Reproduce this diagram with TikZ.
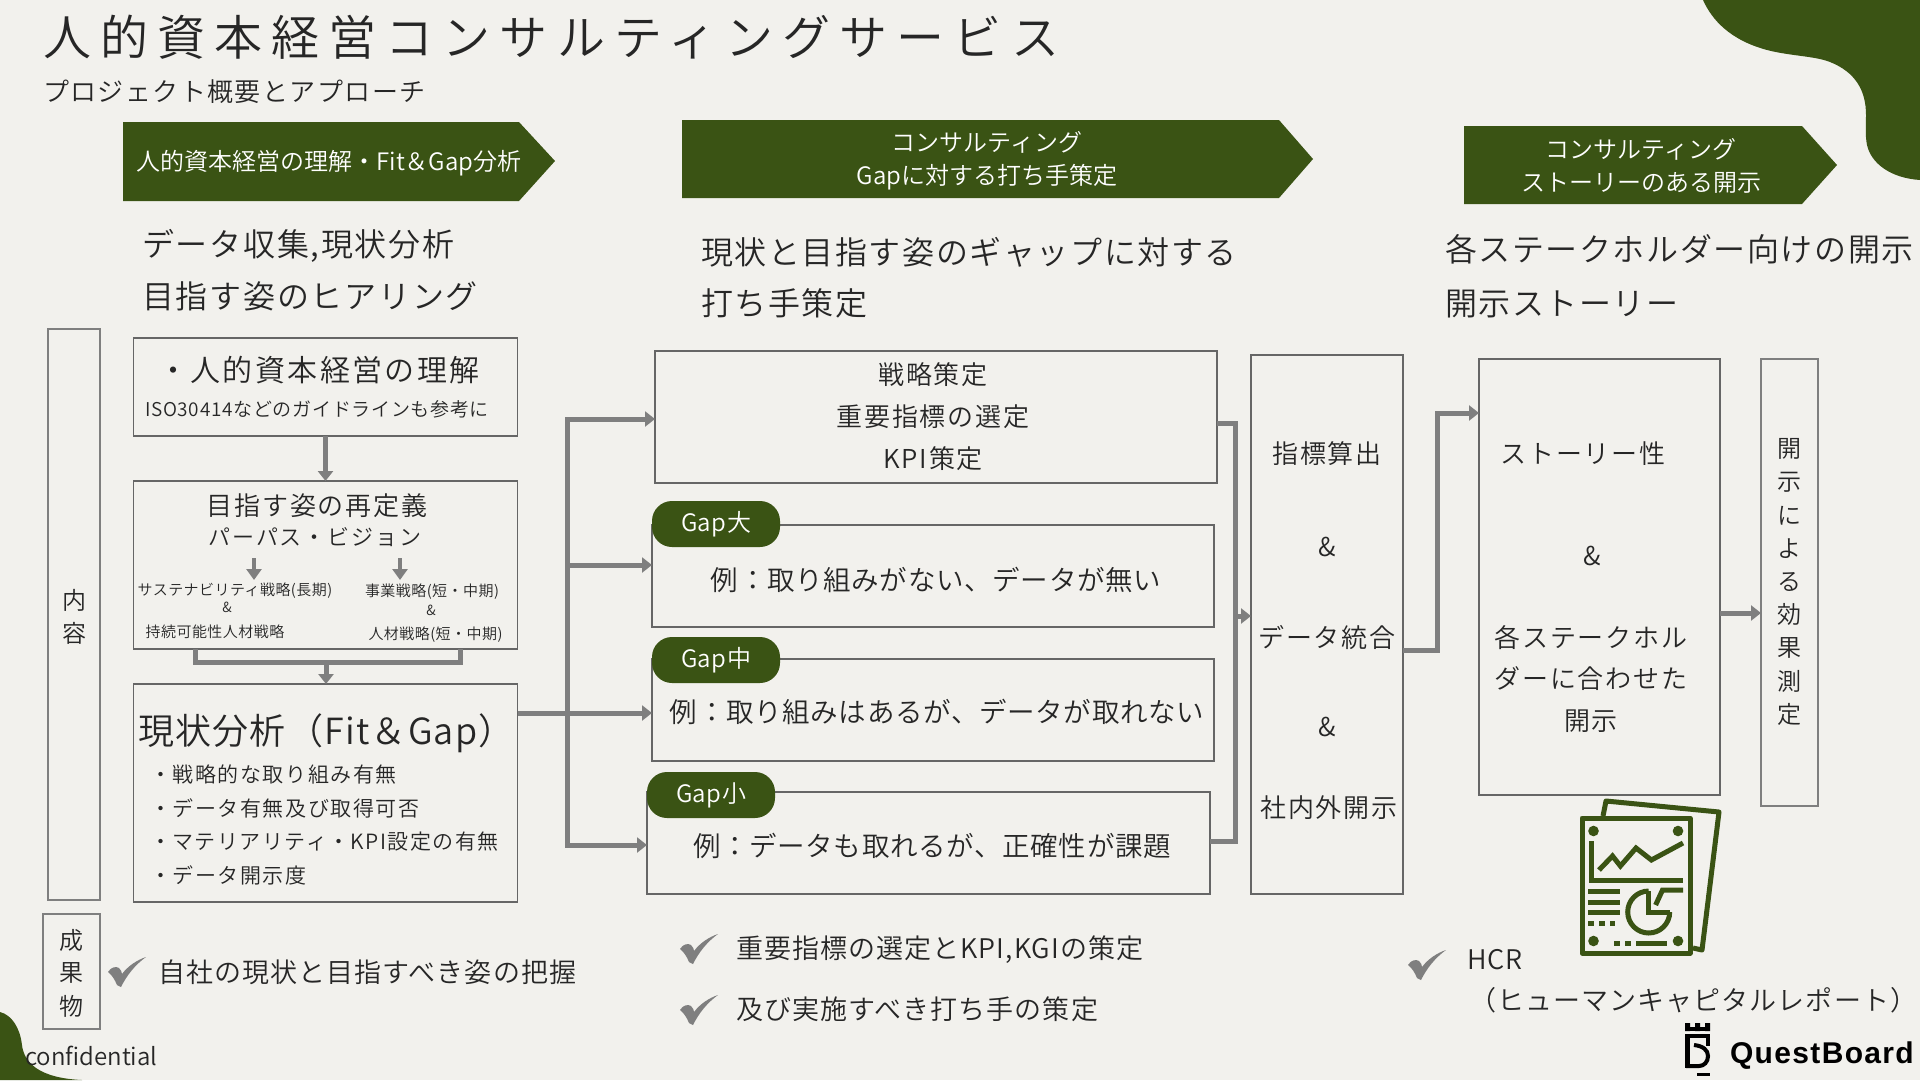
\documentclass[tikz,border=0pt]{standalone}
\usepackage{fontspec}
\usetikzlibrary{arrows.meta,calc}
\setmainfont[UprightFont=* DemiLight,BoldFont=*]{Noto Sans CJK JP}
\newfontfamily\logofont{Liberation Sans}
\definecolor{bgc}{HTML}{F2F1ED}
\definecolor{leaf}{HTML}{3A5314}
\definecolor{ink}{HTML}{262626}
\definecolor{flow}{HTML}{7F7F7F}
\definecolor{edge}{HTML}{666666}
\newcommand\fs[2]{\fontsize{#1}{#1}\selectfont\addfontfeature{LetterSpace=#2}}
\tikzset{
  tx/.style={inner sep=0pt,outer sep=0pt,text=ink,yshift=-1.2pt},
  wt/.style={inner sep=0pt,outer sep=0pt,text=white},
  boxthin/.style={draw=edge,line width=1.3pt,fill=none,inner sep=0pt,outer sep=0pt},
  boxthick/.style={draw=flow,line width=2.4pt,fill=none,inner sep=0pt,outer sep=0pt},
  pill/.style={fill=leaf,rounded corners=20pt,inner sep=0pt,outer sep=0pt,minimum width=128pt,minimum height=46pt,text=white,font=\fs{24}{2}},
  flowline/.style={draw=flow,line width=5pt},
  flowarrow/.style={flowline,-{Triangle[width=15pt,length=10pt]}},
  minor/.style={draw=flow,line width=4pt,-{Triangle[width=15pt,length=11pt]}},
  chev/.style={fill=leaf},
  iconline/.style={draw=leaf,line width=5pt},
  iconfill/.style={fill=leaf}
}
\newcommand\chk[2]{\fill[flow,shift={(#1,#2)}] (0,15) .. controls (3,10) and (8,9) .. (11,11) .. controls (13,13) and (14,15) .. (14,17) .. controls (20,9) and (29,3) .. (38,0) .. controls (27,8) and (19,18) .. (13,30) -- (9,28) .. controls (7,23) and (4,18) .. (0,15) -- cycle;}
\begin{document}
\begin{tikzpicture}[x=1pt,y=-1pt]
\useasboundingbox (0,0) rectangle (1920,1080);
\fill[bgc] (0,0) rectangle (1920,1080);
% blobs
\fill[leaf] (1703,0) .. controls (1712,20) and (1730,40) .. (1767,50) .. controls (1790,56) and (1815,56) .. (1830,62) .. controls (1855,72) and (1866,90) .. (1866,115) .. controls (1866,125) and (1865,135) .. (1867,145) .. controls (1871,163) and (1890,178) .. (1920,180) -- (1920,0) -- cycle;
\fill[leaf] (0,1012) .. controls (12,1015) and (20,1028) .. (22,1045) .. controls (24,1062) and (38,1078) .. (82,1080) -- (0,1080) -- cycle;
% title
\node[tx,anchor=west,font=\fs{48}{19}] (title) at (43,36) {人的資本経営コンサルティングサービス};
\node[tx,anchor=west,font=\fs{26}{5.5}] (subtitle) at (43,90) {プロジェクト概要とアプローチ};
% chevrons
\fill[chev] (123,122) -- (519,122) -- (555,161) -- (519,201) -- (123,201) -- cycle;
\fill[chev] (682,120) -- (1279,120) -- (1313,159) -- (1279,198) -- (682,198) -- cycle;
\fill[chev] (1464,126) -- (1802,126) -- (1837,165) -- (1802,204) -- (1464,204) -- cycle;
\node[wt,font=\fs{24}{0}] (c1a) at (329,163.5) {人的資本経営の理解・Fit＆Gap分析};
\node[wt,font=\fs{24}{0}] (c2a) at (987,142.5) {コンサルティング};
\node[wt,font=\fs{24}{0}] (c2b) at (987,177.5) {Gapに対する打ち手策定};
\node[wt,font=\fs{24}{0}] (c3a) at (1641,149.5) {コンサルティング};
\node[wt,font=\fs{24}{0}] (c3b) at (1641,182.5) {ストーリーのある開示};
% headings
\node[tx,anchor=west,font=\fs{32}{5.5}] (h1a) at (142,245) {データ収集,現状分析};
\node[tx,anchor=west,font=\fs{32}{5.5}] (h1b) at (142,295) {目指す姿のヒアリング};
\node[tx,anchor=west,font=\fs{32}{5}] (h2a) at (701,251) {現状と目指す姿のギャップに対する};
\node[tx,anchor=west,font=\fs{32}{5}] (h2b) at (701,302) {打ち手策定};
\node[tx,anchor=west,font=\fs{32}{5}] (h3a) at (1445,248) {各ステークホルダー向けの開示};
\node[tx,anchor=west,font=\fs{32}{5}] (h3b) at (1445,303) {開示ストーリー};
% left label boxes
\node[boxthick,minimum width=52pt,minimum height=571pt] (naiyou) at (74,614.5) {};
\node[tx,font=\fs{24}{0}] (n1) at (74,599) {内};
\node[tx,font=\fs{24}{0}] (n2) at (74,632) {容};
\node[boxthick,minimum width=57pt,minimum height=115pt] (seika) at (71.5,971.5) {};
\node[tx,font=\fs{24}{0}] (s1) at (71.5,939) {成};
\node[tx,font=\fs{24}{0}] (s2) at (71.5,972) {果};
\node[tx,font=\fs{24}{0}] (s3) at (71.5,1005) {物};
% left column boxes
\node[boxthin,minimum width=384pt,minimum height=98pt] (boxA) at (325.5,387) {};
\node[boxthin,minimum width=384pt,minimum height=168pt] (boxB) at (325.5,565) {};
\node[boxthin,minimum width=384pt,minimum height=218pt] (boxC) at (325.5,793) {};
\node[tx,font=\fs{30}{8}] (a1) at (319,369) {・人的資本経営の理解};
\node[tx,font=\fs{19}{3.7}] (a2) at (317,408) {ISO30414などのガイドラインも参考に};
\node[tx,font=\fs{26}{7}] (b1) at (317,504) {目指す姿の再定義};
\node[tx,font=\fs{22}{8.5}] (b2) at (315,536) {パーパス・ビジョン};
\node[tx,font=\fs{15}{3}] (b3) at (235,589) {サステナビリティ戦略(長期)};
\node[tx,font=\fs{14}{0}] (b4) at (227,606) {\&};
\node[tx,font=\fs{15}{3}] (b5) at (215,631) {持続可能性人材戦略};
\node[tx,font=\fs{15}{3}] (b6) at (432,590) {事業戦略(短・中期)};
\node[tx,font=\fs{14}{0}] (b7) at (431,609) {\&};
\node[tx,font=\fs{15}{3}] (b8) at (435.5,633) {人材戦略(短・中期)};
\coordinate (ar1s) at (254,558); \coordinate (ar1e) at (254,580);
\coordinate (ar2s) at (400,558); \coordinate (ar2e) at (400,580);
\draw[minor] (ar1s) -- (ar1e);
\draw[minor] (ar2s) -- (ar2e);
\node[tx,anchor=west,font=\fs{36}{3.5}] (c0) at (138,732) {現状分析（Fit＆Gap）};
\node[tx,anchor=west,font=\fs{21}{7.5}] (c1) at (150,773.5) {・戦略的な取り組み有無};
\node[tx,anchor=west,font=\fs{21}{7.5}] (c2) at (150,807.5) {・データ有無及び取得可否};
\node[tx,anchor=west,font=\fs{21}{7}] (c3) at (150,840.5) {・マテリアリティ・KPI設定の有無};
\node[tx,anchor=west,font=\fs{21}{7.5}] (c4) at (150,874.5) {・データ開示度};
% left connectors
\draw[flowarrow] (boxA.south) -- (boxB.north);
\coordinate (brL) at (195,649); \coordinate (brR) at (460,649); \coordinate (brM) at (326,662);
\draw[flowline] (brL) -- (brL |- brM) -- (brR |- brM) -- (brR);
\draw[flowarrow] (brM) -- (brM |- boxC.north);
% middle boxes
\node[boxthin,minimum width=562pt,minimum height=132pt] (sbox) at (936,417) {};
\node[tx,font=\fs{26}{7}] (s1t) at (933,373) {戦略策定};
\node[tx,font=\fs{26}{7}] (s2t) at (933,415) {重要指標の選定};
\node[tx,font=\fs{26}{7}] (s3t) at (933,457) {KPI策定};
\node[boxthin,minimum width=562pt,minimum height=102pt] (gapL) at (933,576) {};
\node[boxthin,minimum width=562pt,minimum height=102pt] (gapM) at (933,710) {};
\node[boxthin,minimum width=563pt,minimum height=102pt] (gapS) at (928.5,843) {};
\node[pill] (pL) at (716,524) {\raisebox{-2.4pt}{Gap大}};
\node[pill] (pM) at (716,660) {\raisebox{-2.4pt}{Gap中}};
\node[pill] (pS) at (711,795) {\raisebox{-2.4pt}{Gap小}};
\node[tx,font=\fs{27.5}{2.5}] (gl) at (936,579) {例：取り組みがない、データが無い};
\node[tx,font=\fs{27.5}{2.5}] (gm) at (937,711) {例：取り組みはあるが、データが取れない};
\node[tx,font=\fs{27.5}{2.5}] (gs) at (932,845) {例：データも取れるが、正確性が課題};
% middle connectors
\coordinate (busT) at (567,419); \coordinate (busB) at (567,845); \coordinate (busM) at (569,565); \coordinate (busC) at (567,713);
\draw[flowline,line cap=rect] (busT) -- (busB);
\draw[flowarrow] (busT) -- (sbox.west |- busT);
\draw[flowarrow] (busM) -- (gapL.west |- busM);
\draw[flowarrow] (boxC.east |- busC) -- (gapM.west |- busC);
\draw[flowarrow] (busB) -- (gapS.west |- busB);
% right boxes
\node[boxthin,minimum width=152pt,minimum height=539pt] (bigbox) at (1327,624.5) {};
\node[tx,font=\fs{26}{7}] (bb1) at (1327,452) {指標算出};
\node[tx,font=\fs{26}{0}] (bb2) at (1327,546) {\&};
\node[tx,font=\fs{26}{7}] (bb3) at (1327,636) {データ統合};
\node[tx,font=\fs{26}{0}] (bb4) at (1327,726) {\&};
\node[tx,font=\fs{26}{7}] (bb5) at (1329,806) {社内外開示};
\node[boxthin,minimum width=241pt,minimum height=436pt] (story) at (1599.5,577) {};
\node[tx,font=\fs{26}{7}] (st1) at (1583,452) {ストーリー性};
\node[tx,font=\fs{26}{0}] (st2) at (1592,555) {\&};
\node[tx,font=\fs{26}{7}] (st3) at (1591,636) {各ステークホル};
\node[tx,font=\fs{26}{7}] (st4) at (1591,677) {ダーに合わせた};
\node[tx,font=\fs{26}{7}] (st5) at (1591,720) {開示};
\node[boxthick,minimum width=57pt,minimum height=447pt] (eff) at (1789.5,582.5) {};
\node[tx,font=\fs{24}{0}] (e1) at (1789,448) {開};
\node[tx,font=\fs{24}{0}] (e2) at (1789,481) {示};
\node[tx,font=\fs{24}{0}] (e3) at (1789,514.5) {に};
\node[tx,font=\fs{24}{0}] (e4) at (1789,547.5) {よ};
\node[tx,font=\fs{24}{0}] (e5) at (1789,580.5) {る};
\node[tx,font=\fs{24}{0}] (e6) at (1789,613.5) {効};
\node[tx,font=\fs{24}{0}] (e7) at (1789,647) {果};
\node[tx,font=\fs{24}{0}] (e8) at (1789,680) {測};
\node[tx,font=\fs{24}{0}] (e9) at (1789,713) {定};
% right connectors
\coordinate (mg) at (1235,423); \coordinate (mgB) at (1235,841); \coordinate (mgA) at (1235,616);
\draw[flowline] (sbox.east |- mg) -- (mg) -- (mgB) -- (gapS.east |- mgB);
\draw[flowarrow] (mgA) -- (bigbox.west |- mgA);
\coordinate (outA) at (1437,650); \coordinate (outB) at (1437,413);
\draw[flowarrow] (bigbox.east |- outA) -- (outA) -- (outB) -- (story.west |- outB);
\coordinate (effA) at (1720,613);
\draw[flowarrow] (story.east |- effA) -- (eff.west |- effA);
% deliverables
\chk{108}{957}
\chk{680}{934}
\chk{680}{995}
\chk{1408}{950}
\node[tx,anchor=west,font=\fs{27}{4}] (d1) at (158,971) {自社の現状と目指すべき姿の把握};
\node[tx,anchor=west,font=\fs{27}{4}] (d2) at (736,948) {重要指標の選定とKPI,KGIの策定};
\node[tx,anchor=west,font=\fs{27}{4}] (d3) at (736,1008) {及び実施すべき打ち手の策定};
\node[tx,anchor=west,font=\fs{27}{4}] (d4) at (1467,958) {HCR};
\node[tx,anchor=west,font=\fs{27}{4}] (d5) at (1469,999) {（ヒューマンキャピタルレポート）};
% report icon
\begin{scope}[xshift=-2pt]
\draw[iconline,line join=round] (1605,816) -- (1608,801) -- (1721,812) -- (1704,950) -- (1695,948);
\draw[iconline,line join=round] (1584,818) rectangle (1692,953);
\foreach \px/\py in {1595.5/831,1680/831,1595.5/941,1680/941} \fill[iconfill] (\px,\py) circle (5.3);
\draw[iconline] (1593,841) -- (1593,880) -- (1685,880);
\draw[iconline] (1601,870) -- (1614.5,856) -- (1622.4,866) -- (1638,848) -- (1653.4,860) -- (1685,843);
\foreach \ly in {891,902,912} \draw[iconline] (1590,\ly) -- (1622,\ly);
\draw[iconline] (1590,923) -- (1595.5,923); \draw[iconline] (1601,923) -- (1606.5,923); \draw[iconline] (1612,923) -- (1617,923);
\draw[iconline] (1616,943.5) -- (1622,943.5); \draw[iconline] (1627,943.5) -- (1633,943.5); \draw[iconline] (1638,943.5) -- (1669,943.5);
\draw[iconline] (1650.7,891) arc[start angle=90,end angle=360,radius=21,y radius=-21];
\draw[iconline] (1650.7,891) -- (1650.7,912) -- (1672,912);
\draw[iconline] (1685,890) -- (1664.5,890) -- (1657.6,905);
\end{scope}
% footer
\node[tx,anchor=west,font=\fs{24}{0}] (conf) at (25,1055) {confidential};
\node[inner sep=0pt,outer sep=0pt,anchor=west,font=\logofont\bfseries\fs{30}{4.5},text=black] (qb) at (1730,1056) {QuestBoard};
\fill[black] (1685,1023) rectangle (1690,1031) (1695,1023) rectangle (1700,1031) (1705,1023) rectangle (1710,1031);
\fill[black] (1685,1026.5) rectangle (1710,1031);
\fill[black] (1685,1034) rectangle (1710,1037.5);
\fill[black] (1685,1034) rectangle (1689.5,1068);
\fill[black] (1705.5,1034) rectangle (1710,1046);
\draw[black,line width=4pt] (1694,1045) .. controls (1703,1046) and (1708,1050) .. (1708,1056) .. controls (1708,1062) and (1704,1066) .. (1699,1066) -- (1686,1066);
\fill[black] (1697,1072.5) rectangle (1710,1076);
\end{tikzpicture}
\end{document}
